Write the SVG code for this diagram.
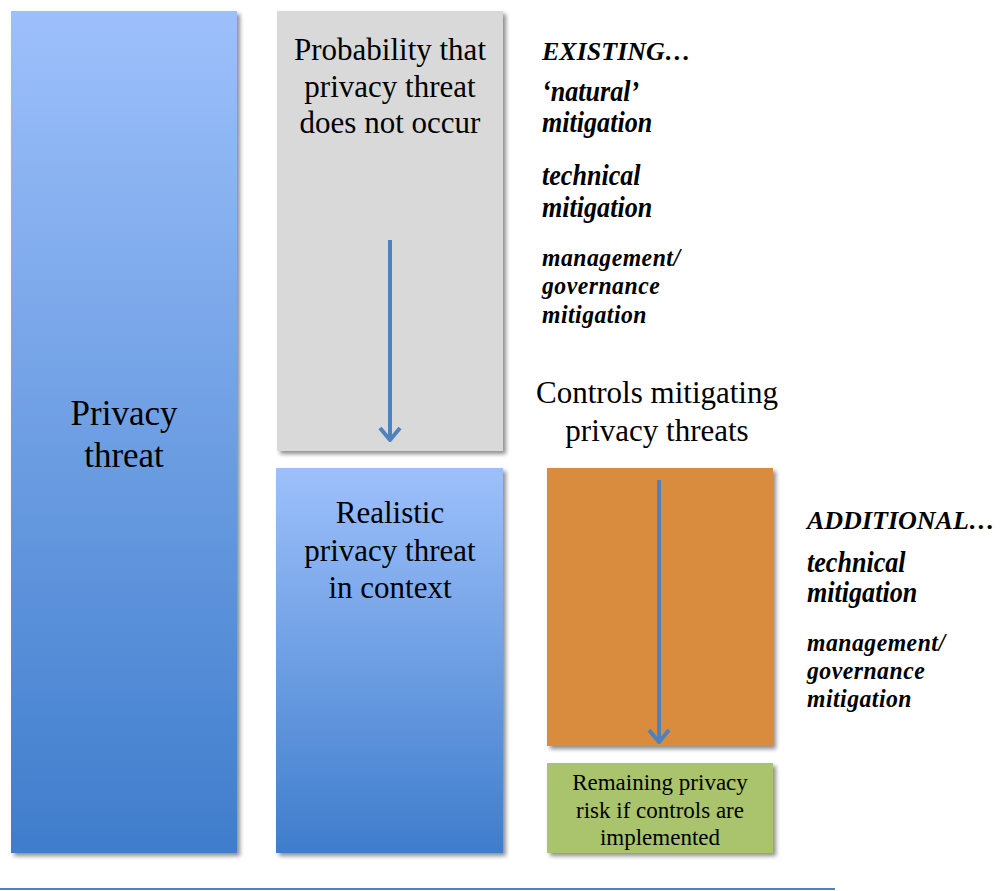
<svg xmlns="http://www.w3.org/2000/svg" width="1000" height="891" viewBox="0 0 1000 891">
<style>
.t{fill:#000;text-anchor:middle}
.bi{font-weight:bold;font-style:italic;fill:#000;font-size:26px}
.bm{font-weight:bold;font-style:italic;fill:#000;font-size:29px}
.bs{font-weight:bold;font-style:italic;fill:#000;font-size:25px;letter-spacing:0.5px}
.arr{stroke:#4f81bd;stroke-width:4;fill:none}
</style>
<defs>
<linearGradient id="gBlue" x1="0" y1="0" x2="0" y2="1">
<stop offset="0" stop-color="#9dc0fb"/>
<stop offset="1" stop-color="#3f7dcc"/>
</linearGradient>
<filter id="sh" x="-10%" y="-10%" width="130%" height="130%">
<feGaussianBlur in="SourceAlpha" stdDeviation="2"/>
<feOffset dx="3" dy="3" result="b"/>
<feComponentTransfer><feFuncA type="linear" slope="0.45"/></feComponentTransfer>
<feMerge><feMergeNode/><feMergeNode in="SourceGraphic"/></feMerge>
</filter>
<marker id="ah" viewBox="-2 -2 18 24" refX="12" refY="10" markerWidth="18" markerHeight="24" markerUnits="userSpaceOnUse" orient="auto">
<path d="M0,0 L12,10 L0,20" fill="none" stroke="#4f81bd" stroke-width="4" stroke-linejoin="round"/>
</marker>
</defs>
<rect width="1000" height="891" fill="#fff"/>
<g font-family="Liberation Serif, Times New Roman, serif">
<g id="privacy-threat">
<rect x="11" y="11" width="226" height="842" fill="url(#gBlue)" filter="url(#sh)"/>
<text class="t" font-size="35"><tspan x="124" y="425">Privacy</tspan><tspan x="124" y="467">threat</tspan></text>
</g>
<g id="probability">
<rect x="277" y="11" width="226" height="440" fill="#d9d9d9" filter="url(#sh)"/>
<text class="t" font-size="31"><tspan x="390" y="60">Probability that</tspan><tspan x="390" y="97">privacy threat</tspan><tspan x="390" y="133">does not occur</tspan></text>
</g>
<g id="realistic">
<rect x="276" y="468" width="227" height="385" fill="url(#gBlue)" filter="url(#sh)"/>
<text class="t" font-size="31"><tspan x="390" y="523">Realistic</tspan><tspan x="390" y="561">privacy threat</tspan><tspan x="390" y="598">in context</tspan></text>
</g>
<g id="controls">
<text class="t" font-size="31"><tspan x="657" y="403">Controls mitigating</tspan><tspan x="657" y="441">privacy threats</tspan></text>
<rect x="547" y="468" width="226" height="278" fill="#d98c3c" filter="url(#sh)"/>
</g>
<g id="remaining">
<rect x="547" y="763" width="226" height="90" fill="#a9c46c" filter="url(#sh)"/>
<text class="t" font-size="23"><tspan x="660" y="790">Remaining privacy</tspan><tspan x="660" y="818">risk if controls are</tspan><tspan x="660" y="845">implemented</tspan></text>
</g>
<g id="existing">
<text class="bi"><tspan x="542" y="60">EXISTING…</tspan></text>
<text class="bm" transform="matrix(0.9 0 0 1 542 0)"><tspan x="0" y="101">‘natural’</tspan><tspan x="0" y="132">mitigation</tspan></text>
<text class="bm" transform="matrix(0.9 0 0 1 542 0)"><tspan x="0" y="185">technical</tspan><tspan x="0" y="217">mitigation</tspan></text>
<text class="bs" transform="matrix(0.95 0 0 1 542 0)"><tspan x="0" y="266">management/</tspan><tspan x="0" y="294">governance</tspan><tspan x="0" y="323">mitigation</tspan></text>
</g>
<g id="additional">
<text class="bi"><tspan x="807" y="529">ADDITIONAL…</tspan></text>
<text class="bm" transform="matrix(0.9 0 0 1 807 0)"><tspan x="0" y="572">technical</tspan><tspan x="0" y="602">mitigation</tspan></text>
<text class="bs" transform="matrix(0.95 0 0 1 807 0)"><tspan x="0" y="651">management/</tspan><tspan x="0" y="679">governance</tspan><tspan x="0" y="707">mitigation</tspan></text>
</g>
</g>
<g id="connectors">
<line class="arr" x1="390" y1="240" x2="390" y2="440" marker-end="url(#ah)"/>
<line class="arr" x1="659" y1="480" x2="659" y2="742" marker-end="url(#ah)"/>
<line x1="0" y1="889" x2="835" y2="889" stroke="#4f81bd" stroke-width="2"/>
</g>
</svg>
